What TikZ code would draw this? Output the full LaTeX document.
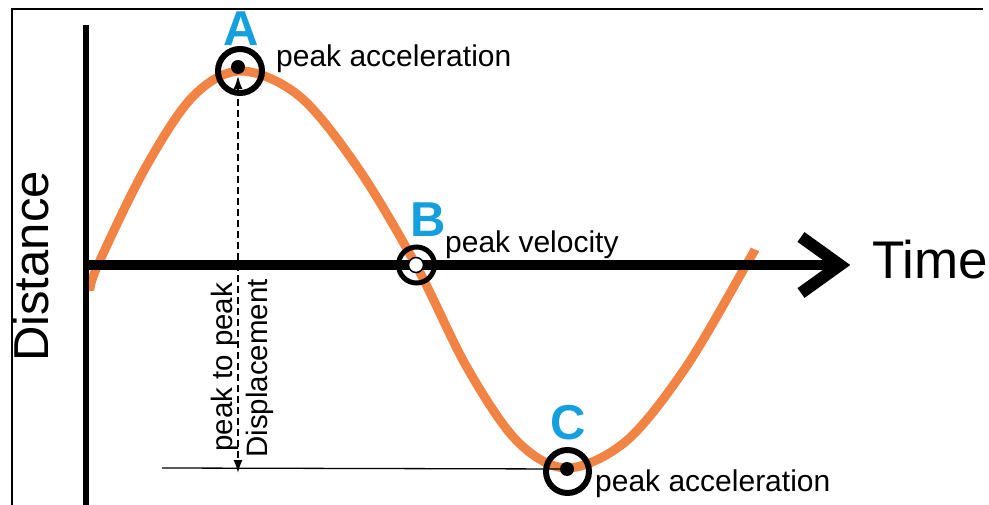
\documentclass[tikz,border=0pt]{standalone}
\usepackage{fontspec}
\setmainfont{Liberation Sans}
\usetikzlibrary{arrows.meta}
\definecolor{wave}{RGB}{241,131,69}
\definecolor{lblue}{RGB}{20,160,222}
\definecolor{thin}{RGB}{90,90,90}
\begin{document}
\begin{tikzpicture}[x=1pt,y=-1pt,
  letter/.style={text=lblue,font=\fontsize{49}{49}\selectfont\bfseries,inner sep=0pt,anchor=base},
  lbl/.style={font=\fontsize{30}{30}\selectfont,inner sep=0pt,anchor=base west},
  vlbl/.style={font=\fontsize{29.5}{29.5}\selectfont,inner sep=0pt,anchor=base west,rotate=90},
  ring/.style={line width=6pt},
  axis/.style={line width=10pt}]
\useasboundingbox (0,0) rectangle (989,505);
% frame
\draw[line width=1.2pt] (12,505) -- (12,9) -- (983,9);
% wave
\draw[wave,line width=9pt] plot[smooth,tension=0.55] coordinates {
 (90,291) (97,267) (145,168.5) (193,96.4) (241,71) (299.7,96.4) (358.3,168.5)
 (417,267) (467,367.5) (517,441) (567,468) (626.3,441) (685.7,367.5) (745,267) (755,249.5)};
% axes
\coordinate (yb) at (86,505);
\coordinate (yt) at (86,25);
\coordinate (xo) at (86,265);
\coordinate (xe) at (842,265);
\draw[line width=6pt] (yb) -- (yt);
\draw[axis] (xo) -- (xe);
\draw[line width=12pt,line join=miter,miter limit=10] (801,237) -- (840,265) -- (801,293);
\node[font=\fontsize{53}{53}\selectfont,inner sep=0pt,anchor=base west] (time) at (872,279) {Time};
\node[font=\fontsize{49}{49}\selectfont,inner sep=0pt,anchor=base west,rotate=90] (dist) at (48,362) {Distance};
% gray line to C
\coordinate (gl) at (162,468);
\coordinate (cdot) at (567,469);
\draw[thin,line width=1.3pt] (gl) -- (cdot);
% dashed double arrow
\coordinate (at) at (238,76);
\coordinate (ab) at (238,473);
\draw[line width=1.5pt,dash pattern=on 7pt off 4pt,{Latex[length=13pt,width=9pt]}-{Latex[length=13pt,width=9pt]}] (at) -- (ab);
% circles
\fill (238,67) circle (7);
\draw[ring] (240,71) circle (22);
\draw[line width=5pt] (416.5,265) circle (18);
\draw[fill=white,line width=1.5pt] (416,265) circle (7.5);
\draw[ring] (567.5,471.5) circle (21.5);
\fill (cdot) circle (7);
% letters
\node[letter] (A) at (241,46) {A};
\node[letter] (B) at (428,237) {B};
\node[letter] (C) at (568,439) {C};
% labels
\node[lbl] (pa1) at (276,67) {peak acceleration};
\node[lbl] (pv) at (445,253) {peak velocity};
\node[lbl] (pa2) at (595,491) {peak acceleration};
\node[vlbl] (p2p) at (232,452) {peak to peak};
\node[vlbl] (disp) at (267,458) {Displacement};
\end{tikzpicture}
\end{document}
